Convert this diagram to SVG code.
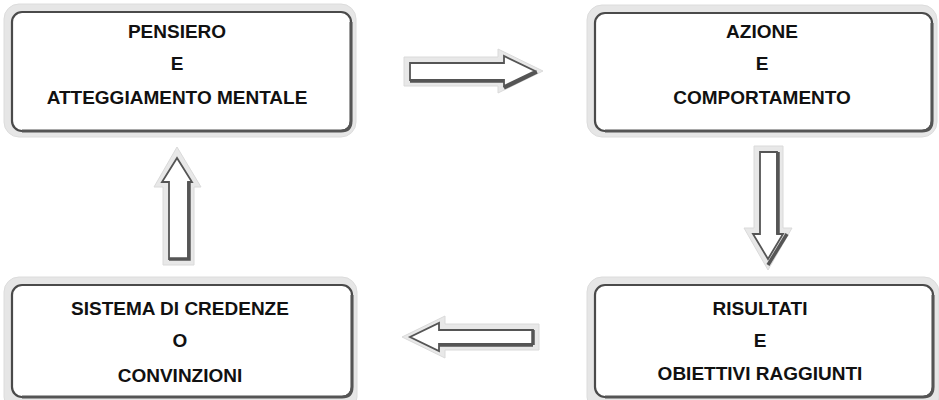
<svg xmlns="http://www.w3.org/2000/svg" width="939" height="400" viewBox="0 0 939 400">
<style>
.band{fill:#e6e6e6;stroke:#dcdcdc;stroke-width:1}
.face{fill:#ffffff;stroke:#4a4a4a;stroke-width:2.2}
.shade{fill:none;stroke:#555;stroke-width:3}
.lbl{font-family:"Liberation Sans",Arial,sans-serif;font-weight:bold;font-size:19px;fill:#111;text-anchor:middle}
.aout{fill:#e8e8e8;stroke:#dadada;stroke-width:1}
.ain{fill:#ffffff;stroke:#555;stroke-width:1.8;stroke-linejoin:miter}
.ash{fill:none;stroke:#555;stroke-width:3.5}
</style>
<rect width="939" height="400" fill="#ffffff"/>
<g id="node-pensiero">
<rect class="band" x="4" y="4" width="352" height="133" rx="15"/>
<rect class="face" x="12" y="12" width="339" height="119" rx="10"/>
<path class="shade" d="M351,22 V121 Q351,131 341,131 H22"/>
<text class="lbl" x="177" y="38">PENSIERO</text>
<text class="lbl" x="177" y="70">E</text>
<text class="lbl" x="177" y="104">ATTEGGIAMENTO MENTALE</text>
</g>
<g id="node-azione">
<rect class="band" x="587" y="5" width="350" height="132" rx="15"/>
<rect class="face" x="595" y="13" width="337" height="118" rx="10"/>
<path class="shade" d="M932,23 V121 Q932,131 922,131 H605"/>
<text class="lbl" x="762" y="38">AZIONE</text>
<text class="lbl" x="762" y="70">E</text>
<text class="lbl" x="762" y="104">COMPORTAMENTO</text>
</g>
<g id="node-sistema">
<rect class="band" x="4" y="277" width="353" height="135" rx="15"/>
<rect class="face" x="12" y="285" width="340" height="112" rx="10"/>
<path class="shade" d="M352,295 V387 Q352,397 342,397 H22"/>
<text class="lbl" x="180" y="315">SISTEMA DI CREDENZE</text>
<text class="lbl" x="180" y="347">O</text>
<text class="lbl" x="180" y="382">CONVINZIONI</text>
</g>
<g id="node-risultati">
<rect class="band" x="587" y="277" width="352" height="135" rx="15"/>
<rect class="face" x="595" y="285" width="338" height="112" rx="10"/>
<path class="shade" d="M933,295 V387 Q933,397 923,397 H605"/>
<text class="lbl" x="760" y="315">RISULTATI</text>
<text class="lbl" x="760" y="347">E</text>
<text class="lbl" x="760" y="380">OBIETTIVI RAGGIUNTI</text>
</g>
<g id="connectors">
<g id="arrow-right">
<path class="aout" d="M404,57 H498 V49 L543,71 L498,93 V86 H404 Z"/>
<path class="ain" d="M410,63 H504 V56 L535,71 L504,86 V80 H410 Z"/>
<path class="ash" d="M410,81 H504"/>
<path class="ash" d="M504,88 L537,72" stroke-width="2.5"/>
</g>
<g id="arrow-down">
<path class="aout" d="M754,146 H783 V228 H792 L768,270 L744,228 H754 Z"/>
<path class="ain" d="M760,152 H777 V234 H783 L768,259 L753,234 H760 Z"/>
<path class="ash" d="M778,152 V234"/>
<path class="ash" d="M787,234 L768,265" stroke-width="2.5"/>
</g>
<g id="arrow-left">
<path class="aout" d="M539,324 H445 V316 L402,337 L445,358 V350 H539 Z"/>
<path class="ain" d="M533,330 H439 V323 L410,337 L439,351 V344 H533 Z"/>
<path class="ash" d="M533,345 H439"/>
<path class="ash" d="M533,330 V345"/>
</g>
<g id="arrow-up">
<path class="aout" d="M163,265 V187 H154 L177,147 L201,187 H194 V265 Z"/>
<path class="ain" d="M169,259 V182 H162 L177,158 L192,182 H188 V259 Z"/>
<path class="ash" d="M189,182 V259 H169"/>
</g>
</g>
</svg>
